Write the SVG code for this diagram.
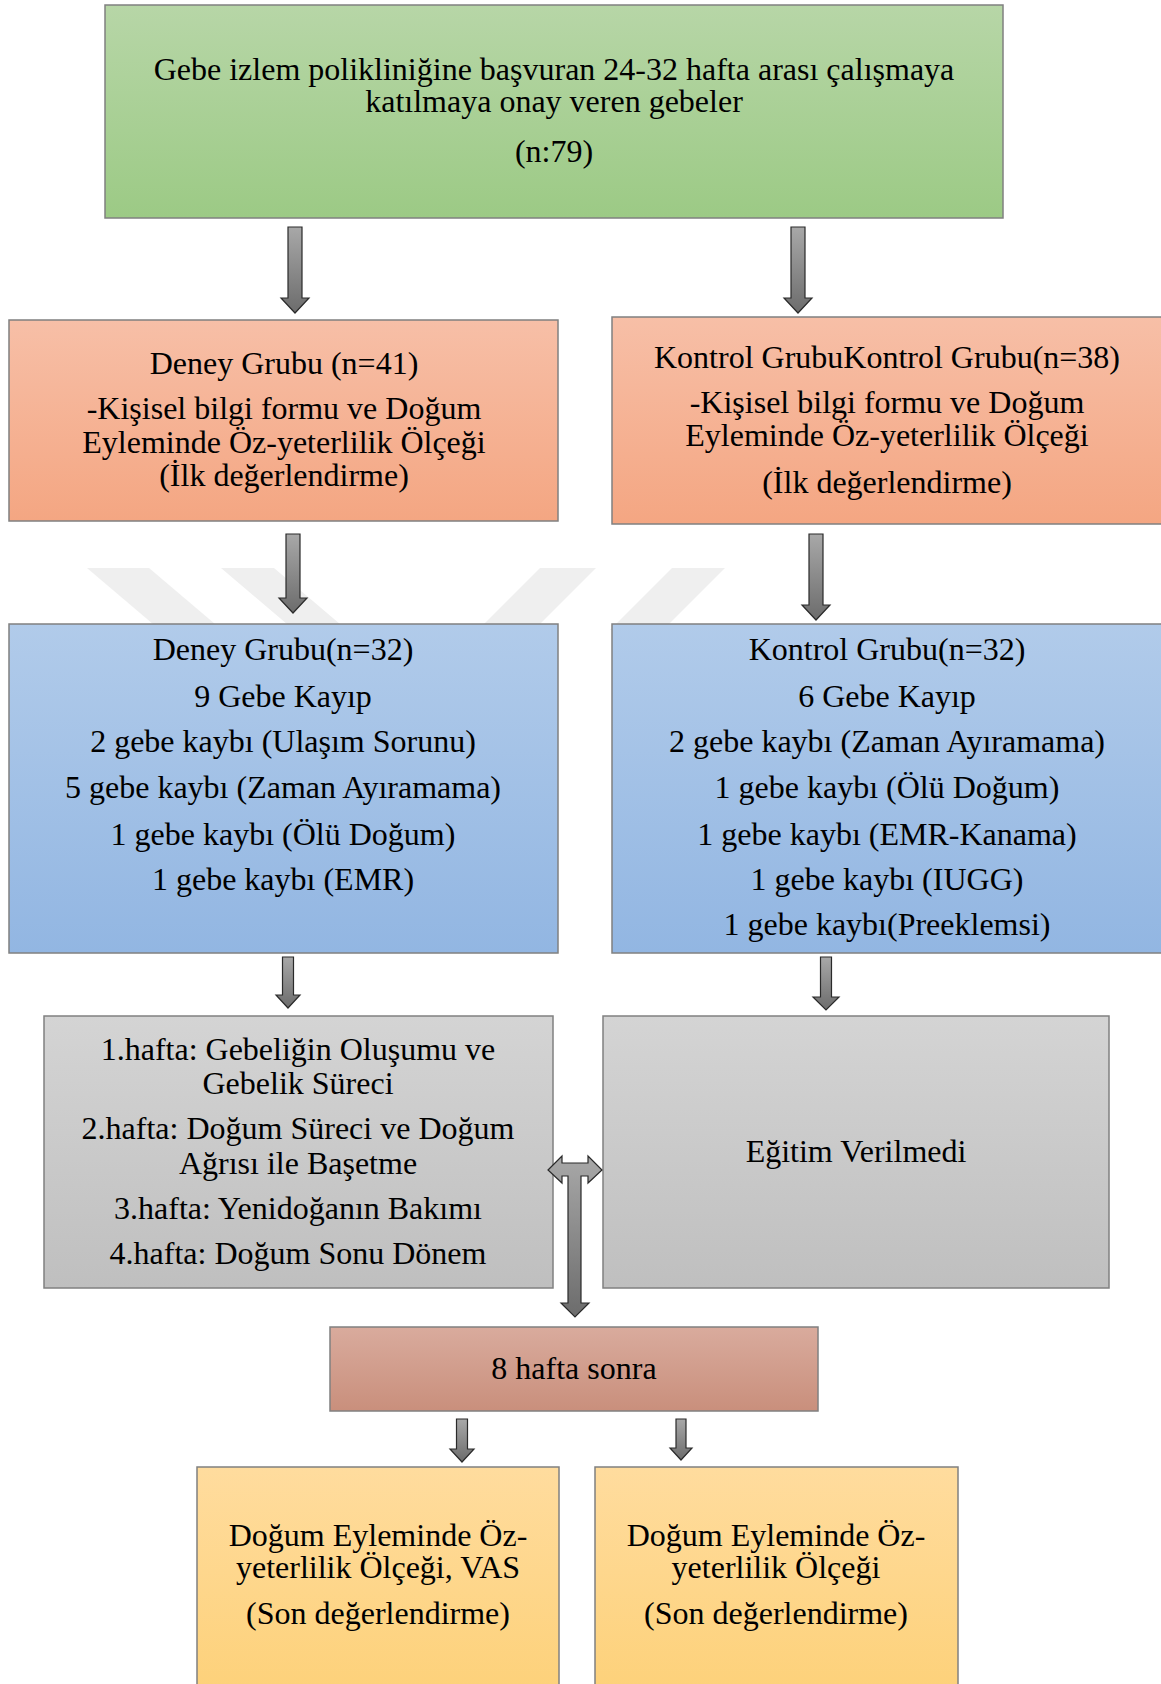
<svg xmlns="http://www.w3.org/2000/svg" width="1161" height="1684" viewBox="0 0 1161 1684">
  <defs>
    <linearGradient id="gGreen" x1="0" y1="0" x2="0" y2="1"><stop offset="0" stop-color="#b7d6a7"/><stop offset="1" stop-color="#9cca85"/></linearGradient>
    <linearGradient id="gOrange" x1="0" y1="0" x2="0" y2="1"><stop offset="0" stop-color="#f7bfa7"/><stop offset="1" stop-color="#f4a682"/></linearGradient>
    <linearGradient id="gBlue" x1="0" y1="0" x2="0" y2="1"><stop offset="0" stop-color="#b1cbea"/><stop offset="1" stop-color="#92b6e2"/></linearGradient>
    <linearGradient id="gGrey" x1="0" y1="0" x2="0" y2="1"><stop offset="0" stop-color="#d4d4d4"/><stop offset="1" stop-color="#bfbfbf"/></linearGradient>
    <linearGradient id="gPink" x1="0" y1="0" x2="0" y2="1"><stop offset="0" stop-color="#d9ab9d"/><stop offset="1" stop-color="#c98f7c"/></linearGradient>
    <linearGradient id="gYellow" x1="0" y1="0" x2="0" y2="1"><stop offset="0" stop-color="#ffdc9e"/><stop offset="1" stop-color="#fdd179"/></linearGradient>
    <linearGradient id="gArrow" x1="0" y1="0" x2="0" y2="1"><stop offset="0" stop-color="#a8a8a8"/><stop offset="1" stop-color="#6c6c6c"/></linearGradient>
  </defs>
  <style>
    .box{stroke:#808080;stroke-width:1.5}
    .t{font-family:"Liberation Serif","Times New Roman",serif;font-size:32px;fill:#000;text-anchor:middle}
    .arr{fill:url(#gArrow);stroke:#2a2a2a;stroke-width:1.2;stroke-linejoin:miter}
    .wm{fill:#efefef}
  </style>
  <rect width="1161" height="1684" fill="#ffffff"/>

  <g id="watermark">
    <polygon class="wm" points="87,568 149,568 222,630 160,630"/>
    <polygon class="wm" points="221,568 274,568 347,630 294,630"/>
    <polygon class="wm" points="540,568 596,568 534,630 478,630"/>
    <polygon class="wm" points="672,568 725,568 663,630 610,630"/>
  </g>

  <g id="n-start">
    <rect class="box" x="105" y="5" width="898" height="213" fill="url(#gGreen)"/>
    <text class="t" x="554" y="80">Gebe izlem polikliniğine başvuran 24-32 hafta arası çalışmaya</text>
    <text class="t" x="554" y="112">katılmaya onay veren gebeler</text>
    <text class="t" x="554" y="162">(n:79)</text>
  </g>

  <g id="n-deney1">
    <rect class="box" x="9" y="320" width="549" height="201" fill="url(#gOrange)"/>
    <text class="t" x="284" y="374">Deney Grubu (n=41)</text>
    <text class="t" x="284" y="419">-Kişisel bilgi formu ve Doğum</text>
    <text class="t" x="284" y="453">Eyleminde Öz-yeterlilik Ölçeği</text>
    <text class="t" x="284" y="486">(İlk değerlendirme)</text>
  </g>

  <g id="n-kontrol1">
    <rect class="box" x="612" y="317" width="560" height="207" fill="url(#gOrange)"/>
    <text class="t" x="887" y="368">Kontrol GrubuKontrol Grubu(n=38)</text>
    <text class="t" x="887" y="413">-Kişisel bilgi formu ve Doğum</text>
    <text class="t" x="887" y="446">Eyleminde Öz-yeterlilik Ölçeği</text>
    <text class="t" x="887" y="493">(İlk değerlendirme)</text>
  </g>

  <g id="n-deney2">
    <rect class="box" x="9" y="624" width="549" height="329" fill="url(#gBlue)"/>
    <text class="t" x="283" y="660">Deney Grubu(n=32)</text>
    <text class="t" x="283" y="707">9 Gebe Kayıp</text>
    <text class="t" x="283" y="752">2 gebe kaybı (Ulaşım Sorunu)</text>
    <text class="t" x="283" y="798">5 gebe kaybı (Zaman Ayıramama)</text>
    <text class="t" x="283" y="845">1 gebe kaybı (Ölü Doğum)</text>
    <text class="t" x="283" y="890">1 gebe kaybı (EMR)</text>
  </g>

  <g id="n-kontrol2">
    <rect class="box" x="612" y="624" width="560" height="329" fill="url(#gBlue)"/>
    <text class="t" x="887" y="660">Kontrol Grubu(n=32)</text>
    <text class="t" x="887" y="707">6 Gebe Kayıp</text>
    <text class="t" x="887" y="752">2 gebe kaybı (Zaman Ayıramama)</text>
    <text class="t" x="887" y="798">1 gebe kaybı (Ölü Doğum)</text>
    <text class="t" x="887" y="845">1 gebe kaybı (EMR-Kanama)</text>
    <text class="t" x="887" y="890">1 gebe kaybı (IUGG)</text>
    <text class="t" x="887" y="935">1 gebe kaybı(Preeklemsi)</text>
  </g>

  <g id="n-egitim">
    <rect class="box" x="44" y="1016" width="509" height="272" fill="url(#gGrey)"/>
    <text class="t" x="298" y="1060">1.hafta: Gebeliğin Oluşumu ve</text>
    <text class="t" x="298" y="1094">Gebelik Süreci</text>
    <text class="t" x="298" y="1139">2.hafta: Doğum Süreci ve Doğum</text>
    <text class="t" x="298" y="1174">Ağrısı ile Başetme</text>
    <text class="t" x="298" y="1219">3.hafta: Yenidoğanın Bakımı</text>
    <text class="t" x="298" y="1264">4.hafta: Doğum Sonu Dönem</text>
  </g>

  <g id="n-egitimyok">
    <rect class="box" x="603" y="1016" width="506" height="272" fill="url(#gGrey)"/>
    <text class="t" x="856" y="1162">Eğitim Verilmedi</text>
  </g>

  <g id="n-8hafta">
    <rect class="box" x="330" y="1327" width="488" height="84" fill="url(#gPink)"/>
    <text class="t" x="574" y="1379">8 hafta sonra</text>
  </g>

  <g id="n-son1">
    <rect class="box" x="197" y="1467" width="362" height="230" fill="url(#gYellow)"/>
    <text class="t" x="378" y="1546">Doğum Eyleminde Öz-</text>
    <text class="t" x="378" y="1578">yeterlilik Ölçeği, VAS</text>
    <text class="t" x="378" y="1624">(Son değerlendirme)</text>
  </g>

  <g id="n-son2">
    <rect class="box" x="595" y="1467" width="363" height="230" fill="url(#gYellow)"/>
    <text class="t" x="776" y="1546">Doğum Eyleminde Öz-</text>
    <text class="t" x="776" y="1578">yeterlilik Ölçeği</text>
    <text class="t" x="776" y="1624">(Son değerlendirme)</text>
  </g>

  <g id="connectors">
    <path class="arr" d="M288,227 H302 V298 H309 L295,313 L281,298 H288 Z"/>
    <path class="arr" d="M791,227 H805 V298 H812 L798,313 L784,298 H791 Z"/>
    <path class="arr" d="M286,534 H300 V598 H307 L293,613 L279,598 H286 Z"/>
    <path class="arr" d="M809,534 H823 V605 H830 L816,620 L802,605 H809 Z"/>
    <path class="arr" d="M282.5,957 H293.5 V995 H300 L288,1008 L276,995 H282.5 Z"/>
    <path class="arr" d="M820.5,957 H831.5 V997 H839 L826,1010 L813,997 H820.5 Z"/>
    <path class="arr" d="M456.5,1419 H467.5 V1449 H474 L462,1462 L450,1449 H456.5 Z"/>
    <path class="arr" d="M676,1419 H686 V1448 H692 L681,1460 L670,1448 H676 Z"/>
    <path class="arr" d="M548,1170 L562,1156 V1163 H588 V1156 L602,1170 L588,1183 V1176 H581 V1303 H589 L575,1317 L561,1303 H568 V1176 H562 V1183 Z"/>
  </g>
</svg>
